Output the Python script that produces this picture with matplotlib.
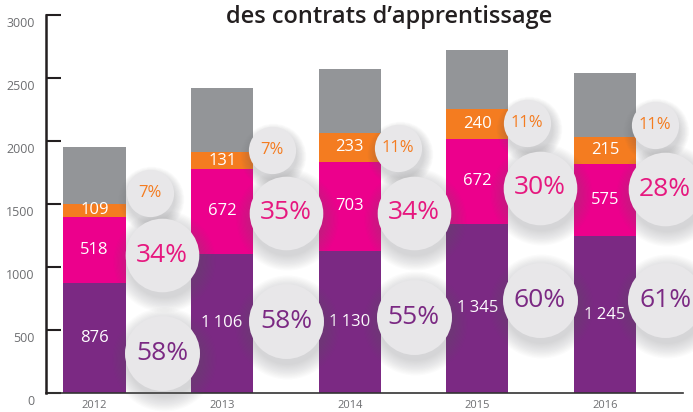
import matplotlib
matplotlib.use('Agg')
import numpy as np
from matplotlib import pyplot as plt
from matplotlib import transforms

plt.rcParams['font.family'] = ['Open Sans', 'DejaVu Sans']

years = ['2012', '2013', '2014', '2015', '2016']
purple_vals = [876, 1106, 1130, 1345, 1245]
pink_vals = [518, 672, 703, 672, 575]
orange_vals = [109, 131, 233, 240, 215]
grey_vals = [449, 512, 503, 465, 505]

pct_orange = ['7%', '7%', '11%', '11%', '11%']
pct_pink = ['34%', '35%', '34%', '30%', '28%']
pct_purple = ['58%', '58%', '55%', '60%', '61%']

# where the percentage bubbles sit (layout only)
bubble_small_y = [1587, 1929, 1944, 2143, 2127]
bubble_mid_y = [1095, 1429, 1429, 1627, 1619]
bubble_low_y = [317, 571, 603, 738, 738]
bubble_small_dx = [0.435, 0.39, 0.38, 0.39, 0.39]
bubble_big_dx = [0.53, 0.50, 0.50, 0.49, 0.47]

PURPLE = '#7b2983'
PINK = '#ec008c'
ORANGE = '#f47c20'
GREY = '#939598'
BUBBLE = '#e8e7e9'


def fmt(v):
    if v >= 1000:
        return f'{v // 1000}\u202f{v % 1000:03d}'
    return str(v)


fig = plt.figure(figsize=(6.93, 4.12), dpi=100)
ax = fig.add_axes([46 / 693, 19 / 412, (683 - 46) / 693, (393 - 15) / 412])

x = np.arange(len(years))
w = 0.486
bottom = np.zeros(len(years))
for vals, col in [(purple_vals, PURPLE), (pink_vals, PINK), (orange_vals, ORANGE), (grey_vals, GREY)]:
    vals = np.array(vals)
    ax.bar(x, vals, w, bottom=bottom, color=col, zorder=2)
    if col != GREY:
        for i in range(len(years)):
            ax.text(x[i], bottom[i] + vals[i] / 2, fmt(vals[i]), ha='center', va='center',
                    color='white', fontsize=12, zorder=4)
    bottom += vals

shadow = transforms.offset_copy(ax.transData, fig=fig, x=1, y=-4, units='points')


def bubbles(xs, ys, diam, labels, color, fsize):
    for k in range(12):
        ax.scatter(xs, ys, s=(diam * (1.0 + 0.035 * k)) ** 2, color='#6a6a70', alpha=0.025,
                   linewidths=0, transform=shadow, zorder=5, clip_on=False)
    ax.scatter(xs, ys, s=diam ** 2, color=BUBBLE, linewidths=0, zorder=6, clip_on=False)
    for xi, yi, t in zip(xs, ys, labels):
        ax.text(xi, yi, t, ha='center', va='center', color=color, fontsize=fsize,
                zorder=7, clip_on=False)


bubbles(x + np.array(bubble_small_dx), bubble_small_y, 34, pct_orange, ORANGE, 12)
bubbles(x + np.array(bubble_big_dx), bubble_mid_y, 53, pct_pink, '#e6187f', 19)
bubbles(x + np.array(bubble_big_dx), bubble_low_y, 54, pct_purple, PURPLE, 19)

ax.set_xlim(-0.38, 4.61)
ax.set_ylim(0, 3000)
ax.set_yticks([0, 500, 1000, 1500, 2000, 2500, 3000])
ax.set_xticks(x)
ax.set_xticklabels(years)
ax.tick_params(axis='y', direction='in', length=11, width=1.5, color='#231f20',
               labelcolor='#6d6e71', labelsize=9, pad=8)
ax.tick_params(axis='x', length=0, labelcolor='#6d6e71', labelsize=8, pad=5)
down = transforms.ScaledTranslation(0, -5 / 72, fig.dpi_scale_trans)
for lab in ax.get_yticklabels():
    lab.set_transform(lab.get_transform() + down)

for s in ['top', 'right']:
    ax.spines[s].set_visible(False)
ax.spines['left'].set_linewidth(1.8)
ax.spines['left'].set_color('#231f20')
ax.spines['bottom'].set_linewidth(1.2)
ax.spines['bottom'].set_color('#333333')
ax.spines['left'].set_zorder(8)

fig.text(389 / 693, 1 - 23 / 412, 'des contrats d\u2019apprentissage', ha='center', va='baseline',
         fontsize=17, fontweight='semibold', color='#231f20')

fig.savefig('out.png', dpi=100)
